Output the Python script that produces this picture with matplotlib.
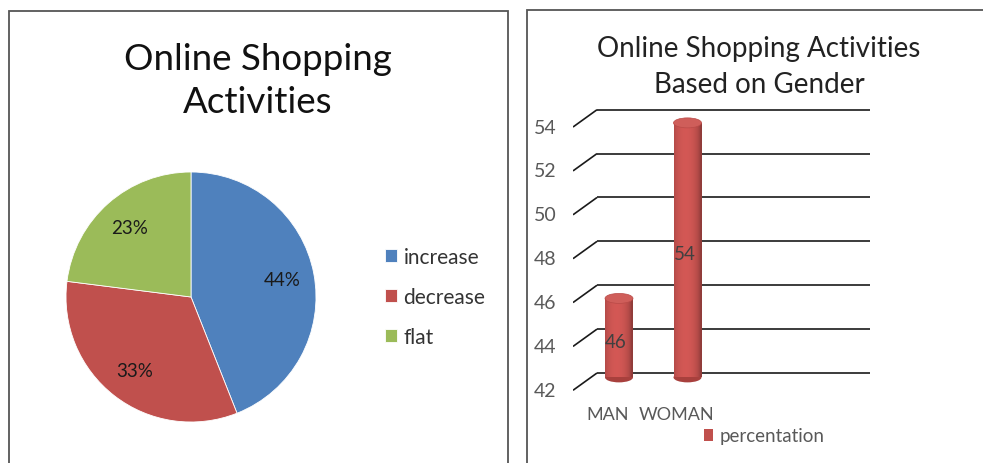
import numpy as np
import matplotlib
matplotlib.use("Agg")
import matplotlib.pyplot as plt
from matplotlib.patches import Rectangle, Ellipse, Patch

# ---------------- data ----------------
pie_title = "Online Shopping\nActivities"
pie_labels = ["increase", "decrease", "flat"]
pie_values = [44, 33, 23]
pie_colors = ["#4F81BD", "#C0504D", "#9BBB59"]

bar_title = "Online Shopping Activities\nBased on Gender"
bar_categories = ["MAN", "WOMAN"]
bar_values = [46, 54]
bar_series = "percentation"
y_ticks = [42, 44, 46, 48, 50, 52, 54]
bar_color = "#C0504D"

# ---------------- figure ----------------
W, H = 983, 464
DPI = 100
plt.rcParams["font.family"] = ["Lato", "DejaVu Sans"]
fig = plt.figure(figsize=(W / DPI, H / DPI), dpi=DPI)
fig.patch.set_facecolor("white")


def px(x0, y0, w, h):
    return [x0 / W, (H - y0 - h) / H, w / W, h / H]


def fx(x):
    return x / W


def fy(y):
    return (H - y) / H


# panel frames
for (x0, y0, x1, y1) in [(9, 12, 508, 480), (527, 11, 1000, 480)]:
    fig.patches.append(Rectangle((fx(x0), fy(y1)), fx(x1) - fx(x0), fy(y0) - fy(y1),
                                 transform=fig.transFigure, fill=False,
                                 edgecolor="#555555", linewidth=1.3))

# ---------------- left: pie ----------------
fig.text(fx(258), fy(81), pie_title, ha="center", va="center", fontsize=26.5,
         color="#111111", linespacing=1.36)

axp = fig.add_axes(px(66, 173, 250, 250))
wedges, _, autotexts = axp.pie(pie_values, colors=pie_colors, startangle=90,
                               counterclock=False, autopct="%d%%", pctdistance=0.74,
                               wedgeprops=dict(edgecolor="white", linewidth=0.6),
                               textprops=dict(fontsize=13.5, color="#1a1a1a"))
axp.set_xlim(-1, 1)
axp.set_ylim(-1, 1)
axp.set_aspect("equal")
axp.axis("off")

fig.legend(wedges, pie_labels, loc="center left", bbox_to_anchor=(fx(366), fy(298)),
           frameon=False, fontsize=15, labelspacing=0.97, handlelength=0.6,
           handleheight=0.6, handletextpad=0.3, labelcolor="#333333")

# ---------------- right: 3D-like cylinder bars ----------------
fig.text(fx(759), fy(67), bar_title, ha="center", va="center", fontsize=20,
         color="#222222", linespacing=1.45)

ppu = 21.94           # pixels per value unit
y_lo, y_hi = 40.5, 55.5
top_px = 374 - (y_hi - 42) * ppu
axb = fig.add_axes(px(573, top_px, 297, (y_hi - y_lo) * ppu))
axb.set_xlim(0, 297)
axb.set_ylim(y_lo, y_hi)
axb.axis("off")

dx = 24               # depth offset (px / x data units)
dv = 17.3 / ppu       # depth offset in value units

for v in y_ticks:
    axb.plot([0, dx], [v - dv, v], color="#1a1a1a", lw=1.2, solid_capstyle="butt")
    axb.plot([dx, 297], [v, v], color="#1a1a1a", lw=1.2, solid_capstyle="butt")
    axb.text(-28, v - dv, str(v), ha="center", va="center", fontsize=14,
             color="#595959")

base = y_ticks[0]
bw = 28
ell_h = 10 / ppu
rgb = np.array(matplotlib.colors.to_rgb(bar_color))
t = np.linspace(-1, 1, 64)
shade = 0.75 + 0.35 * np.clip(1 - ((t + 0.15) / 1.05) ** 2, 0, 1) ** 0.6
grad = np.clip(rgb[None, :] * shade[:, None], 0, 1)[None, :, :]

for i, (cat, val) in enumerate(zip(bar_categories, bar_values)):
    xc = 46 + 68.5 * i
    yb = base - 0.2
    yt = val - 0.6
    # bottom cap
    axb.add_patch(Ellipse((xc, yb), bw, ell_h, facecolor="#A8403D", edgecolor="none", zorder=3))
    # body
    rect = Rectangle((xc - bw / 2, yb), bw, yt - yb, facecolor="none", edgecolor="none")
    axb.add_patch(rect)
    im = axb.imshow(grad, extent=[xc - bw / 2, xc + bw / 2, yb, yt], aspect="auto",
                    zorder=4, interpolation="bilinear")
    im.set_clip_path(rect)
    # top cap
    axb.add_patch(Ellipse((xc, yt), bw, ell_h, facecolor="#CF5E5A", edgecolor="#B94A47",
                          lw=0.5, zorder=5))
    # data label
    axb.text(xc - 3, (val + base) / 2 - dv * 0.7, str(val), ha="center", va="center",
             fontsize=13.5, color="#404040", zorder=6)
    # category label
    axb.text(xc - 11, base - (415 - 374) / ppu, cat, ha="center", va="center",
             fontsize=13, color="#595959")

axb.set_xlim(0, 297)
axb.set_ylim(y_lo, y_hi)

fig.legend([Patch(facecolor=bar_color)], [bar_series], loc="center",
           bbox_to_anchor=(fx(764), fy(437)), frameon=False, fontsize=13.5,
           handlelength=0.5, handleheight=0.6, handletextpad=0.35, labelcolor="#595959")

fig.savefig("out.png", dpi=DPI, facecolor="white")
